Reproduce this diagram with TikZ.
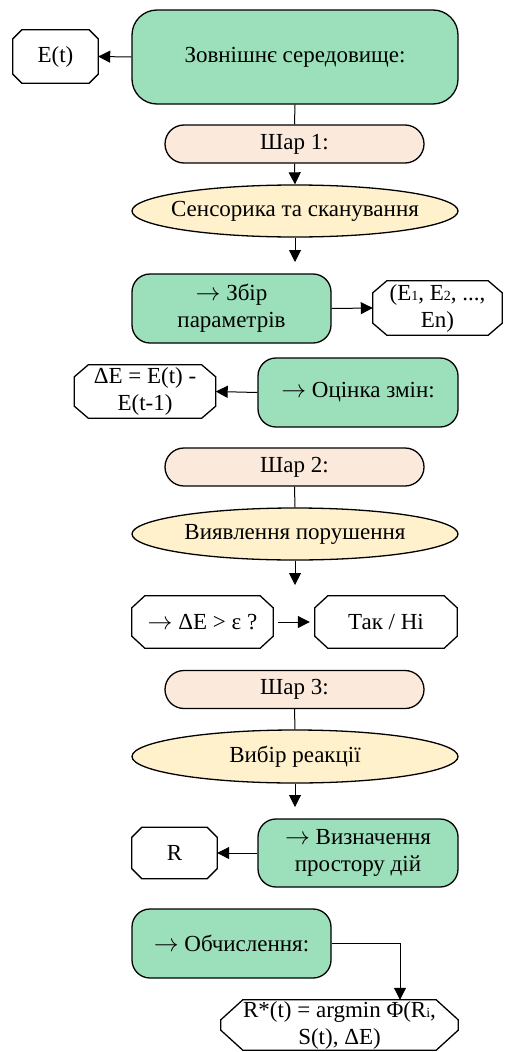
\documentclass[tikz,border=0pt]{standalone}
\usepackage{fontspec}
\setmainfont{Liberation Serif}
\usetikzlibrary{shapes.geometric,arrows.meta}
\definecolor{grn}{HTML}{9BE0BB}
\definecolor{pch}{HTML}{FBE9DC}
\definecolor{ylw}{HTML}{FFF1CC}
\newcommand\smdig[1]{{\fontsize{14}{14}\selectfont #1}}
\newcommand\rarr{$\rightarrow$}
\newcommand\octo[3]{%
  \draw[octline] ([xshift=#2pt]#1.north west) -- ([xshift=-#2pt]#1.north east)
    -- ([yshift=-#3pt]#1.north east) -- ([yshift=#3pt]#1.south east)
    -- ([xshift=-#2pt]#1.south east) -- ([xshift=#2pt]#1.south west)
    -- ([yshift=#3pt]#1.south west) -- ([yshift=-#3pt]#1.north west) -- cycle;}
\tikzset{
  x=1pt, y=-1pt,
  every node/.style={font=\fontsize{23}{27}\selectfont, inner sep=0pt, align=center},
  gbox/.style={draw, line width=1.3pt, fill=grn, rounded corners=#1},
  gbox/.default=18pt,
  layer/.style={draw, line width=1.3pt, fill=pch, rounded corners=19pt, minimum width=259pt, minimum height=38pt},
  ell/.style={draw, line width=1.3pt, fill=ylw, ellipse, minimum width=326pt, minimum height=52pt},
  octline/.style={line width=1.3pt, fill=white},
  conn/.style={line width=1pt},
  arr/.style={line width=1pt, -{Triangle[length=12pt,width=12pt]}},
}
\begin{document}
\begin{tikzpicture}
\useasboundingbox (0,0) rectangle (504,1052);
% top
\node[gbox=25pt, minimum width=326pt, minimum height=94pt] (env) at (295,57) {Зовнішнє середовище:};
\node[minimum width=85pt, minimum height=53pt] (Et) at (55.5,56.5) {};
\octo{Et}{9}{9}
\node at (Et) {E(t)};
\node[layer] (sh1) at (294.5,144) {Шар 1:};
\node[ell] (ell1) at (295,211) {};
\node at (ell1) {Сенсорика та сканування};
\coordinate (t1) at (295,262);
\node[gbox, minimum width=199pt, minimum height=69pt] (zb) at (231.5,308.5) {\rarr\ Збір\\параметрів};
\node[minimum width=129pt, minimum height=54pt] (El) at (437.5,308) {};
\octo{El}{14}{12}
\node at (El) {(E\smdig{1}, E\smdig{2}, ...,\\En)};
\node[gbox, minimum width=200pt, minimum height=69pt] (oc) at (358,392.5) {\rarr\ Оцінка змін:};
\node[minimum width=141pt, minimum height=53pt] (dE) at (145,391.5) {};
\octo{dE}{14}{12}
\node at (dE) {ΔE = E(t) -\\E(t-1)};
% layer 2
\node[layer] (sh2) at (294.5,467) {Шар 2:};
\node[ell] (ell2) at (295,534) {};
\node at (ell2) {Виявлення порушення};
\coordinate (t2) at (295,585);
\node[minimum width=141pt, minimum height=52pt] (q) at (202.5,622) {};
\octo{q}{13}{12}
\node at (q) {\rarr\ ΔE > ε ?};
\node[minimum width=142pt, minimum height=52pt] (yn) at (386,622) {};
\octo{yn}{13}{12}
\node at (yn) {Так / Ні};
% layer 3
\node[layer] (sh3) at (294.5,689.5) {Шар 3:};
\node[ell, minimum height=53pt] (ell3) at (295,756.5) {};
\node at (ell3) {Вибір реакції};
\coordinate (t3) at (295,807);
\node[gbox, minimum width=200pt, minimum height=68pt] (viz) at (358,853) {\rarr\ Визначення\\простору дій};
\node[minimum width=85pt, minimum height=51pt] (R) at (174.5,853) {};
\octo{R}{10}{10}
\node at (R) {R};
\node[gbox, minimum width=199pt, minimum height=69pt] (ob) at (231.5,943.5) {\rarr\ Обчислення:};
\node[minimum width=237pt, minimum height=50pt] (Rs) at (339.5,1025) {};
\octo{Rs}{22}{20}
\node at (Rs) {R*(t) = argmin Φ(R\smdig{i},\\S(t), ΔE)};
\coordinate (turn) at (400,0);
% connectors
\draw[arr] (env.west) -- (Et.east);
\draw[conn] (env.south) -- (sh1.north);
\draw[arr] (sh1.south) -- (ell1.north);
\draw[arr] (ell1.south) -- (t1);
\draw[arr] (zb.east) -- (El.west);
\draw[arr] (oc.west) -- (dE.east);
\draw[conn] (sh2.south) -- (ell2.north);
\draw[arr] (ell2.south) -- (t2);
\draw[arr, shorten <=5pt, shorten >=5pt] (q.east) -- (yn.west);
\draw[conn] (sh3.south) -- (ell3.north);
\draw[arr] (ell3.south) -- (t3);
\draw[arr] (viz.west) -- (R.east);
\draw[arr] (ob.east) -| (Rs.north -| turn);
\end{tikzpicture}
\end{document}
